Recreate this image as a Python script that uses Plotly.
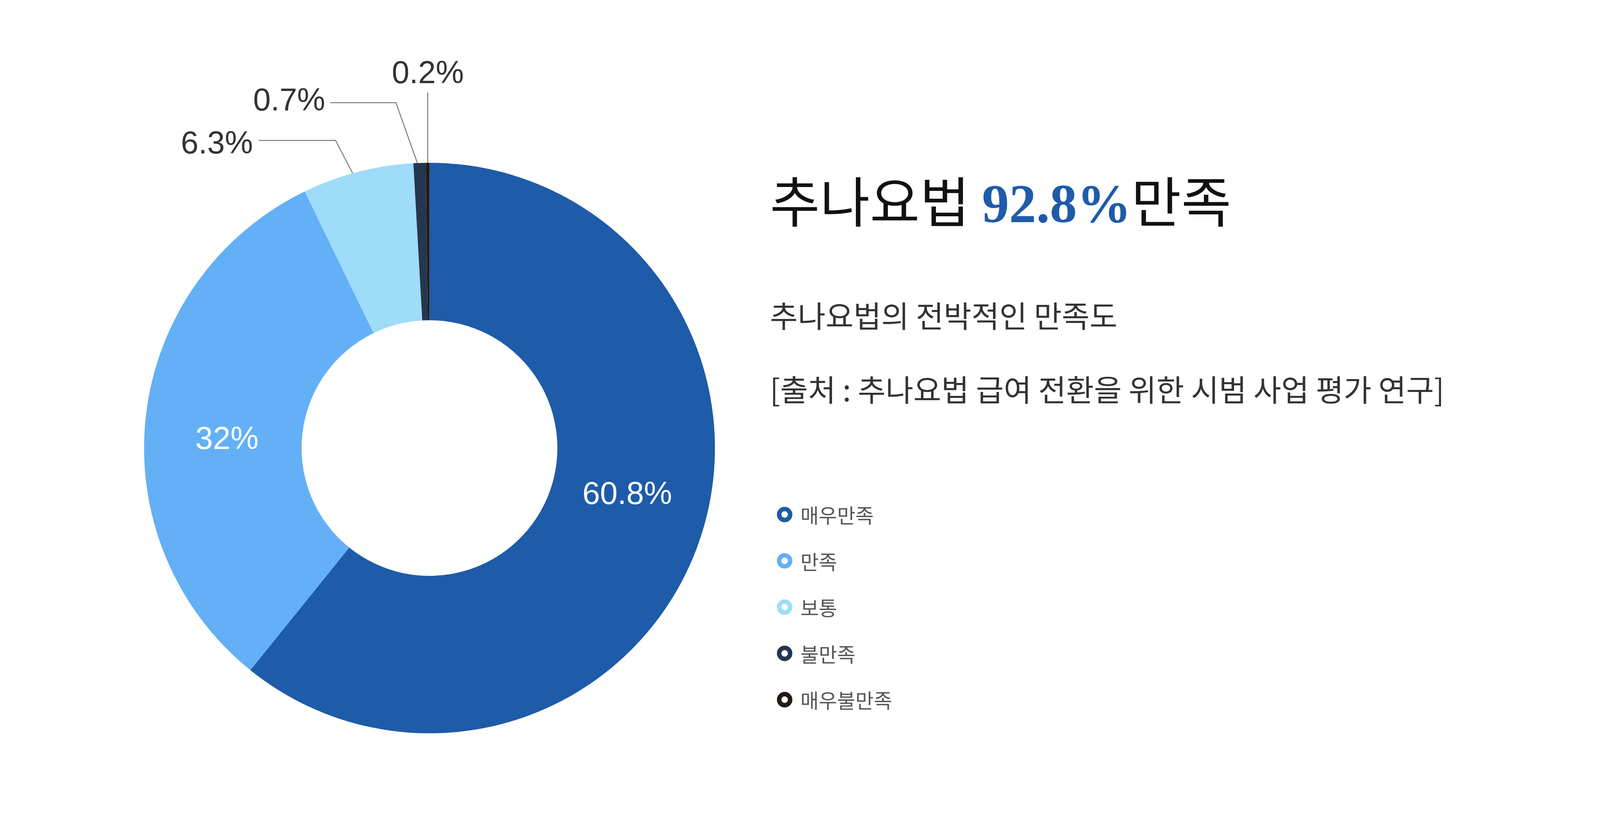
import math
import plotly.graph_objects as go

# satisfaction survey data
categories = ['매우만족', '만족', '보통', '불만족', '매우불만족']
shares = [60.8, 32, 6.3, 0.7, 0.2]
share_labels = ['60.8%', '32%', '6.3%', '0.7%', '0.2%']
colors = ['#1e5ba8', '#63b0f7', '#9edcfa', '#24374f', '#231815']

title_head = '추나요법 '
title_value = '92.8%'
title_tail = '만족'
subtitle = '추나요법의 전박적인 만족도'
source = '[출처 : 추나요법 급여 전환을 위한 시범 사업 평가 연구]'

# the browser view is 4096 wide, so the 5000x2085 design is mapped onto it
W, H = 4088, 2077
SX, SY = W / 5000, H / 2085
FS = 0.88  # font / marker scale


def X(v):
    return v * SX


def Y(v):
    return v * SY


CX, CY, R = X(1335), Y(1144), 803 * 0.91
HOLE = 0.448
LABEL_FONT = 'Liberation Sans, Arial, sans-serif'
KR_FONT = 'Noto Sans CJK KR, sans-serif'

total = sum(shares)


def mid_angle(i):
    # degrees clockwise from 12 o'clock
    before = sum(shares[:i])
    return (before + shares[i] / 2) / total * 360


def polar(angle, r):
    a = math.radians(angle)
    return CX + r * math.sin(a), CY - r * math.cos(a)


fig = go.Figure()

fig.add_trace(go.Pie(
    values=shares,
    labels=categories,
    marker=dict(colors=colors, line=dict(width=0)),
    hole=HOLE,
    sort=False,
    direction='clockwise',
    rotation=0,
    textinfo='none',
    hoverinfo='skip',
    showlegend=False,
    domain=dict(x=[(CX - R) / W, (CX + R) / W],
                y=[1 - (CY + R) / H, 1 - (CY - R) / H]),
))

annotations = []

# labels inside the big slices (radius fraction, angle nudge)
inside = {0: (0.711, -6.6), 1: (0.711, -3.7)}
for i, (rf, nudge) in inside.items():
    x, y = polar(mid_angle(i) + nudge, rf * R)
    annotations.append(dict(x=x, y=y, xref='x', yref='y', text=share_labels[i],
                            showarrow=False, xanchor='center', yanchor='middle',
                            font=dict(family=LABEL_FONT, size=92 * FS, color='white')))

# callouts for the thin slices
callouts = {
    2: dict(rf=0.92, knee=(1041, 353), end=(800, 353), text=(785, 358), anchor='right'),
    3: dict(rf=0.975, knee=(1230, 256), end=(1024, 256), text=(1012, 248), anchor='right'),
    4: dict(rf=0.975, knee=None, end=(None, 230), text=(None, 178), anchor='center'),
}
dot_x, dot_y = [], []
for i, c in callouts.items():
    px, py = polar(mid_angle(i), c['rf'] * R)
    dot_x.append(px)
    dot_y.append(py)
    xs, ys = [px], [py]
    if c['knee']:
        xs.append(X(c['knee'][0]))
        ys.append(Y(c['knee'][1]))
    xs.append(X(c['end'][0]) if c['end'][0] is not None else px)
    ys.append(Y(c['end'][1]))
    fig.add_trace(go.Scatter(x=xs, y=ys, mode='lines', line=dict(color='#7a7a7a', width=2.5),
                             hoverinfo='skip', showlegend=False))
    tx = X(c['text'][0]) if c['text'][0] is not None else px
    annotations.append(dict(x=tx, y=Y(c['text'][1]), xref='x', yref='y', text=share_labels[i],
                            showarrow=False, xanchor=c['anchor'], yanchor='middle',
                            font=dict(family=LABEL_FONT, size=92 * FS, color='#333333')))

fig.add_trace(go.Scatter(x=dot_x, y=dot_y, mode='markers',
                         marker=dict(size=14, color='#7a7a7a'),
                         hoverinfo='skip', showlegend=False))

# legend drawn by hand (ring markers)
leg_x, leg_y0, leg_step = X(2447), 1315, 119
leg_y = [Y(leg_y0 + k * leg_step) for k in range(len(categories))]
fig.add_trace(go.Scatter(
    x=[leg_x] * len(categories), y=leg_y, mode='markers',
    marker=dict(size=32 * FS, color='white', line=dict(color=colors, width=13 * FS)),
    hoverinfo='skip', showlegend=False,
))
for name, y in zip(categories, leg_y):
    annotations.append(dict(x=leg_x + 38, y=y, xref='x', yref='y', text=name,
                            showarrow=False, xanchor='left', yanchor='middle',
                            font=dict(family=KR_FONT, size=58 * FS, color='#555555')))

# heading block
annotations.append(dict(
    x=X(2398), y=Y(502), xref='x', yref='y', showarrow=False, xanchor='left', yanchor='middle',
    text=(title_head
          + "<span style='font-family:Liberation Serif, DejaVu Serif, serif;color:#1e5ba8'><b>"
          + title_value + '</b></span>' + title_tail),
    font=dict(family=KR_FONT, size=158 * FS, color='#111111'),
))
annotations.append(dict(x=X(2398), y=Y(800), xref='x', yref='y', text=subtitle, showarrow=False,
                        xanchor='left', yanchor='middle',
                        font=dict(family=KR_FONT, size=88 * FS, color='#333333')))
annotations.append(dict(x=X(2398), y=Y(990), xref='x', yref='y', text=source, showarrow=False,
                        xanchor='left', yanchor='middle',
                        font=dict(family=KR_FONT, size=88 * FS, color='#333333')))

fig.update_layout(
    width=W, height=H,
    margin=dict(l=0, r=0, t=0, b=0),
    paper_bgcolor='white', plot_bgcolor='rgba(0,0,0,0)',
    xaxis=dict(range=[0, W], visible=False, domain=[0, 1], fixedrange=True),
    yaxis=dict(range=[H, 0], visible=False, domain=[0, 1], fixedrange=True),
    annotations=annotations,
    showlegend=False,
)

fig.write_html('out.html')
